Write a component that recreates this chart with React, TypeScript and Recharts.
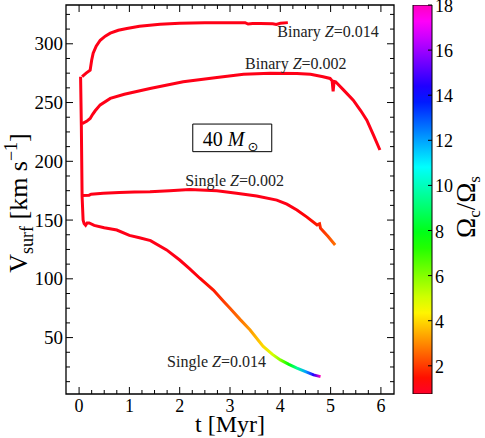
import React from "react";
import { LineChart, Line, XAxis, YAxis, ReferenceArea, ReferenceDot, BarChart, Bar } from "recharts";

const FONT = "'Liberation Serif', 'DejaVu Serif', serif";

// surface velocity [km/s] vs time [Myr], 40 Msun models
const binaryZ014T = [0.06, 0.14, 0.22, 0.25, 0.28, 0.34, 0.42, 0.52, 0.62, 0.78, 0.95, 1.2, 1.61, 2.0, 2.5, 3.0, 3.3, 3.36, 3.45, 3.6, 3.85, 3.92, 4.0, 4.15];
const binaryZ014V = [272, 275, 277.5, 286, 292, 298, 303, 306.5, 309, 311.5, 313, 315, 316.7, 317.5, 318, 318, 318, 316.8, 317.2, 317.2, 317, 316.5, 317.5, 318];
const binaryZ014Omega = binaryZ014T.map(() => 1);

const binaryZ002T = [0.06, 0.15, 0.22, 0.27, 0.32, 0.42, 0.62, 0.9, 1.41, 2.07, 2.74, 3.27, 3.8, 4.33, 4.6, 4.85, 4.99, 5.03, 5.05, 5.07, 5.1, 5.25, 5.45, 5.6, 5.72, 5.85, 5.98];
const binaryZ002V = [232, 234, 236.5, 240, 243, 248, 253.5, 257, 262, 267.7, 271.4, 274, 275, 274.8, 274, 272, 270.5, 268.5, 259.5, 268, 267.7, 261, 252, 243, 235, 222.5, 209.6];
const binaryZ002Omega = binaryZ002T.map(() => 1);

const singleZ002T = [0.06, 0.2, 0.24, 0.48, 0.8, 1.1, 1.41, 1.8, 2.2, 2.74, 3.13, 3.53, 3.93, 4.13, 4.33, 4.53, 4.73, 4.76, 4.78, 4.8, 4.95, 5.09];
const singleZ002V = [171, 171.2, 172, 172.8, 173.5, 173.8, 174, 175, 176, 175, 172.8, 170.5, 167, 163.5, 158.6, 152.5, 145.8, 146.5, 146.8, 143, 136, 128.8];
const singleZ002Omega = [1, 1, 1, 1, 1, 1, 1, 1, 1, 1, 1, 1, 1, 1, 1.1, 1.3, 1.6, 1.7, 1.7, 1.8, 2.2, 2.7];

const singleZ014T = [0.03, 0.045, 0.06, 0.08, 0.1, 0.13, 0.16, 0.2, 0.3, 0.5, 0.75, 1.0, 1.2, 1.42, 1.74, 2.0, 2.2, 2.4, 2.67, 2.87, 3.0, 3.2, 3.4, 3.66, 3.85, 4.0, 4.17, 4.33, 4.5, 4.66, 4.8];
const singleZ014V = [272, 230, 170, 150, 147, 145.5, 147.5, 147.5, 145.5, 143.5, 141.5, 137, 135, 132.5, 124.6, 116, 108.5, 100.5, 90.5, 81, 75, 65.5, 56.5, 42.5, 35.5, 31, 27.2, 24, 21, 18.3, 16.8];
const singleZ014Omega = [1, 1, 1, 1, 1, 1, 1, 1, 1, 1, 1, 1, 1, 1, 1, 1, 1.05, 1.2, 1.6, 2.0, 2.3, 2.7, 3.2, 4.0, 5.0, 6.0, 7.7, 9.5, 12, 14.5, 18];

const labelKind = ["Binary", "Binary", "Single", "Single"];
const labelZ = ["0.014", "0.002", "0.002", "0.014"];
const labelT = [3.94, 3.3, 2.11, 1.75];
const labelV = [305.7, 278.5, 179, 25];

const massBoxT = [2.26, 3.83];
const massBoxV = [208.2, 231.7];

const xTicks = [0, 0.25, 0.5, 0.75, 1, 1.25, 1.5, 1.75, 2, 2.25, 2.5, 2.75, 3, 3.25, 3.5, 3.75, 4, 4.25, 4.5, 4.75, 5, 5.25, 5.5, 5.75, 6];
const yTicks = [12.5, 25, 37.5, 50, 62.5, 75, 87.5, 100, 112.5, 125, 137.5, 150, 162.5, 175, 187.5, 200, 212.5, 225, 237.5, 250, 262.5, 275, 287.5, 300, 312.5, 325];
const xDomain = [-0.26, 6.26];
const yDomain = [2, 333];

const colorbarTicks = [2, 4, 6, 8, 10, 12, 14, 16, 18];
const colorbarRange = [0.75, 18];

const PLOT_LEFT = 66;
const PLOT_RIGHT = 394;
const PLOT_TOP = 5;
const PLOT_BOTTOM = 394;
const CB_RIGHT = 32;

function omegaColor(w: number) {
  const [lo, hi] = colorbarRange;
  const f = Math.min(1, Math.max(0, (w - lo) / (hi - lo)));
  const hue = (-10 + f * 325 + 360) % 360;
  return `hsl(${hue.toFixed(1)}, 100%, 50%)`;
}

function zip(t: number[], v: number[]) {
  return t.map((x, i) => ({ t: x, v: v[i] }));
}

function trackGradient(id: string, t: number[], omega: number[]) {
  const t0 = Math.min(...t);
  const t1 = Math.max(...t);
  return (
    <linearGradient id={id} x1="0" y1="0" x2="1" y2="0">
      {t.map((x, i) => (
        <stop key={i} offset={(x - t0) / (t1 - t0)} stopColor={omegaColor(omega[i])} />
      ))}
    </linearGradient>
  );
}

const tracks = [
  { id: "bz014", t: binaryZ014T, v: binaryZ014V, w: binaryZ014Omega },
  { id: "bz002", t: binaryZ002T, v: binaryZ002V, w: binaryZ002Omega },
  { id: "sz002", t: singleZ002T, v: singleZ002V, w: singleZ002Omega },
  { id: "sz014", t: singleZ014T, v: singleZ014V, w: singleZ014Omega },
];

const XTick = (props: any) => {
  const { x, payload } = props;
  const val = payload.value;
  const major = Number.isInteger(val);
  const len = major ? 7 : 4;
  return (
    <g>
      <line x1={x} x2={x} y1={PLOT_BOTTOM} y2={PLOT_BOTTOM - len} stroke="#000" strokeWidth={1} />
      <line x1={x} x2={x} y1={PLOT_TOP} y2={PLOT_TOP + len} stroke="#000" strokeWidth={1} />
      {major && (
        <text x={x} y={PLOT_BOTTOM + 18} textAnchor="middle" fontSize={18} fontFamily={FONT} fill="#000">
          {val}
        </text>
      )}
    </g>
  );
};

const YTick = (props: any) => {
  const { y, payload } = props;
  const val = payload.value;
  const major = val % 50 === 0;
  const len = major ? 7 : 4;
  return (
    <g>
      <line x1={PLOT_LEFT} x2={PLOT_LEFT + len} y1={y} y2={y} stroke="#000" strokeWidth={1} />
      <line x1={PLOT_RIGHT - len} x2={PLOT_RIGHT} y1={y} y2={y} stroke="#000" strokeWidth={1} />
      {major && (
        <text x={PLOT_LEFT - 3} y={y + 6.5} textAnchor="end" fontSize={19} fontFamily={FONT} fill="#000">
          {val}
        </text>
      )}
    </g>
  );
};

const CbTick = (props: any) => {
  const { y, payload } = props;
  return (
    <g>
      <line x1={CB_RIGHT - 4} x2={CB_RIGHT} y1={y} y2={y} stroke="#000" strokeWidth={1} />
      <text x={CB_RIGHT + 3} y={y + 7} textAnchor="start" fontSize={18} fontFamily={FONT} fill="#000">
        {payload.value}
      </text>
    </g>
  );
};

const trackLabel = (kind: string, z: string) => (p: any) => {
  const vb = p.viewBox || {};
  return (
    <text x={vb.x} y={vb.y} fontSize={16} fontFamily={FONT} fill="#222">
      {kind + " "}
      <tspan fontStyle="italic">Z</tspan>
      {"=" + z}
    </text>
  );
};

const massLabel = (p: any) => {
  const vb = p.viewBox || {};
  return (
    <text x={vb.x + 10} y={vb.y + vb.height - 6} fontSize={20} fontFamily={FONT} fill="#000">
      {"40 "}
      <tspan fontStyle="italic">M</tspan>
      <tspan fontSize={13} dx={3} dy={5} fontFamily="'DejaVu Sans', sans-serif">⊙</tspan>
    </text>
  );
};

const colorbarData = [{ name: "omega", range: colorbarRange }];

export default function App() {
  const [lo, hi] = colorbarRange;
  const cbStops = Array.from({ length: 25 }, (_, i) => lo + ((hi - lo) * i) / 24);
  return (
    <div style={{ position: "absolute", left: 0, top: 0, width: 485, height: 438, background: "#fff" }}>
      <div style={{ position: "absolute", left: 0, top: 0 }}>
        <LineChart width={400} height={438} margin={{ top: 5, right: 6, bottom: 0, left: 0 }}>
          <defs>{tracks.map((tr) => <React.Fragment key={tr.id}>{trackGradient("g-" + tr.id, tr.t, tr.w)}</React.Fragment>)}</defs>
          <XAxis
            dataKey="t"
            type="number"
            domain={xDomain}
            ticks={xTicks}
            interval={0}
            allowDataOverflow
            height={44}
            tickLine={false}
            axisLine={false}
            tick={<XTick />}
          />
          <YAxis
            type="number"
            domain={yDomain}
            ticks={yTicks}
            interval={0}
            allowDataOverflow
            width={66}
            tickLine={false}
            axisLine={false}
            tick={<YTick />}
          />
          <ReferenceArea x1={xDomain[0]} x2={xDomain[1]} y1={yDomain[0]} y2={yDomain[1]} fill="none" stroke="#000" strokeWidth={1.3} fillOpacity={0} />
          <ReferenceArea
            x1={massBoxT[0]}
            x2={massBoxT[1]}
            y1={massBoxV[0]}
            y2={massBoxV[1]}
            fill="#fff"
            fillOpacity={1}
            stroke="#000"
            strokeWidth={1}
            label={massLabel}
          />
          {tracks.map((tr) => (
            <Line
              key={tr.id}
              data={zip(tr.t, tr.v)}
              dataKey="v"
              type="linear"
              stroke={`url(#g-${tr.id})`}
              strokeWidth={3}
              dot={false}
              activeDot={false}
              isAnimationActive={false}
            />
          ))}
          {labelKind.map((k, i) => (
            <ReferenceDot key={i} x={labelT[i]} y={labelV[i]} r={0} fill="none" stroke="none" label={trackLabel(k, labelZ[i])} />
          ))}
          <text x={230} y={432} textAnchor="middle" fontSize={24} fontFamily={FONT} fill="#000">
            t [Myr]
          </text>
          <text x={27} y={203} textAnchor="middle" fontSize={26} fontFamily={FONT} fill="#000" transform="rotate(-90, 27, 203)">
            V<tspan fontSize={18} dy={6}>surf</tspan>
            <tspan dy={-6}>{" [km s"}</tspan>
            <tspan fontSize={18} dy={-10}>−1</tspan>
            <tspan dy={10}>]</tspan>
          </text>
        </LineChart>
      </div>
      <div style={{ position: "absolute", left: 400, top: 0 }}>
        <BarChart width={85} height={438} data={colorbarData} margin={{ top: 5, right: 0, bottom: 44, left: 13 }} barCategoryGap={0}>
          <defs>
            <linearGradient id="cbar" x1="0" y1="1" x2="0" y2="0">
              {cbStops.map((w, i) => (
                <stop key={i} offset={(w - lo) / (hi - lo)} stopColor={omegaColor(w)} />
              ))}
            </linearGradient>
          </defs>
          <XAxis dataKey="name" hide />
          <YAxis
            orientation="right"
            type="number"
            width={53}
            domain={colorbarRange}
            ticks={colorbarTicks}
            interval={0}
            allowDataOverflow
            tickLine={false}
            axisLine={false}
            tick={<CbTick />}
          />
          <Bar dataKey="range" fill="url(#cbar)" stroke="#000" strokeWidth={1} isAnimationActive={false} />
          <text x={75} y={207} textAnchor="middle" fontSize={27} fontFamily={FONT} fill="#000" transform="rotate(-90, 75, 207)">
            Ω<tspan fontSize={17} dy={5}>c</tspan>
            <tspan dy={-5}>/Ω</tspan>
            <tspan fontSize={17} dy={5}>s</tspan>
          </text>
        </BarChart>
      </div>
    </div>
  );
}
